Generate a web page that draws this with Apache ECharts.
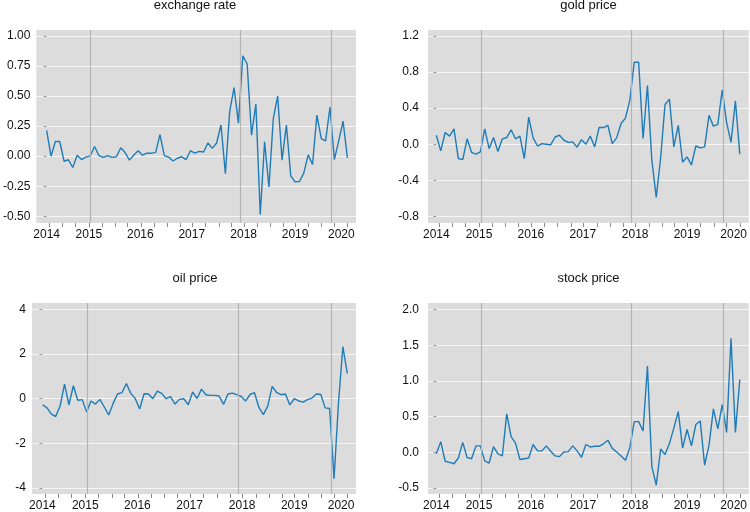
<!DOCTYPE html>
<html><head><meta charset="utf-8">
<script src="https://cdn.jsdelivr.net/npm/echarts@6/dist/echarts.min.js"></script>
<style>html,body{margin:0;padding:0;background:#fff}#c{width:750px;height:512px}</style>
</head><body><div id="c"></div>
<script>
const titles = ['exchange rate', 'gold price', 'oil price', 'stock price'];

const exchangeRate = [0.214, 0.0, 0.122, 0.122, -0.042, -0.03, -0.094, 0.008, -0.028, -0.008,
  0.003, 0.08, 0.005, -0.01, 0.005, -0.01, -0.005, 0.07, 0.03, -0.033,
  0.01, 0.045, 0.008, 0.025, 0.025, 0.03, 0.18, 0.005, -0.008, -0.04,
  -0.017, -0.005, -0.028, 0.045, 0.025, 0.04, 0.035, 0.11, 0.065, 0.11,
  0.26, -0.145, 0.375, 0.57, 0.275, 0.836, 0.767, 0.175, 0.433, -0.486,
  0.12, -0.256, 0.314, 0.5, -0.033, 0.258, -0.164, -0.214, -0.211, -0.139,
  0.011, -0.069, 0.342, 0.147, 0.128, 0.408, -0.028, 0.128, 0.292, -0.014];

const goldPrice = [0.10, -0.074, 0.13, 0.09, 0.17, -0.16, -0.17, 0.06, -0.09, -0.11,
  -0.085, 0.17, -0.05, 0.074, -0.08, 0.06, 0.074, 0.16, 0.06, 0.09,
  -0.16, 0.30, 0.07, -0.02, 0.007, 0.0, -0.007, 0.08, 0.10, 0.044,
  0.02, 0.026, -0.033, 0.05, 0.0, 0.09, -0.03, 0.185, 0.185, 0.21,
  0.007, 0.07, 0.23, 0.29, 0.49, 0.91, 0.91, 0.063, 0.65, -0.18,
  -0.59, -0.15, 0.44, 0.5, -0.03, 0.21, -0.2, -0.14, -0.23, -0.02,
  -0.04, -0.03, 0.32, 0.2, 0.22, 0.6, 0.24, 0.02, 0.48, -0.11];

const oilPrice = [-0.27, -0.4, -0.68, -0.8, -0.33, 0.65, -0.27, 0.58, -0.07, -0.04,
  -0.59, -0.1, -0.24, -0.03, -0.37, -0.73, -0.21, 0.21, 0.27, 0.68,
  0.24, 0.01, -0.46, 0.22, 0.21, 0.0, 0.34, 0.24, 0.0, 0.09,
  -0.24, -0.03, 0.0, -0.27, 0.3, 0.01, 0.43, 0.18, 0.15, 0.15,
  0.12, -0.25, 0.21, 0.25, 0.18, 0.1, -0.1, 0.19, 0.27, -0.39,
  -0.71, -0.33, 0.55, 0.28, 0.18, 0.21, -0.28, 0.0, -0.1, -0.15,
  -0.04, 0.03, 0.21, 0.19, -0.41, -0.44, -3.59, -0.2, 2.33, 1.13];

const stockPrice = [-0.02, 0.15, -0.125, -0.14, -0.16, -0.08, 0.14, -0.075, -0.09, 0.09,
  0.09, -0.12, -0.15, 0.08, -0.02, -0.05, 0.54, 0.22, 0.13, -0.1,
  -0.09, -0.08, 0.11, 0.02, 0.02, 0.09, 0.015, -0.05, -0.06, 0.005,
  0.01, 0.09, 0.02, -0.07, 0.11, 0.075, 0.085, 0.085, 0.12, 0.17,
  0.055, 0.005, -0.05, -0.11, 0.065, 0.43, 0.43, 0.3, 1.21, -0.2,
  -0.46, 0.046, -0.03, 0.125, 0.34, 0.57, 0.06, 0.32, 0.09, 0.39,
  0.44, -0.18, 0.1, 0.61, 0.33, 0.67, 0.28, 1.6, 0.28, 1.02];

const yearLabels = ['2014', '2015', '2016', '2017', '2018', '2019', '2020'];
const yearLabelPos = [0, 9.7, 21.5, 33.3, 45.2, 57, 67.6];
const quarterTickPos = [0.7, 3.6, 6.6, 9.7, 12.7, 15.7, 18.6, 21.6, 24.6, 27.6, 30.6, 33.5,
  36.5, 39.5, 42.4, 45.3, 48.3, 51.3, 54.2, 57.1, 60.1, 63.1, 66.0, 69.0];
const eventLines = [10.1, 44.4, 65.3];

const yTickValues = [
  [-0.5, -0.25, 0, 0.25, 0.5, 0.75, 1.0],
  [-0.8, -0.4, 0, 0.4, 0.8, 1.2],
  [-4, -2, 0, 2, 4],
  [-0.5, 0, 0.5, 1.0, 1.5, 2.0]
];
const yDecimals = [2, 1, 0, 1];
const yRange = [[-0.556, 1.05], [-0.874, 1.267], [-4.27, 4.29], [-0.584, 2.093]];
const seriesValues = [exchangeRate, goldPrice, oilPrice, stockPrice];

const FONT = 'Liberation Sans, Arial, sans-serif';
const LINE = '#1f7cb7';
const grids = [
  {left: 32, top: 30, width: 324, height: 193},
  {left: 428, top: 30, width: 322, height: 193},
  {left: 32, top: 303, width: 324, height: 192},
  {left: 428, top: 303, width: 322, height: 192}
];
const xRange = [[-2.36, 70.97], [-1.9, 71.04], [-2.36, 70.97], [-1.9, 71.04]];
const titlePos = [[195, -1], [588.5, -1], [195, 271.8], [588.5, 271.8]];
const yLabelMargin = [6, 9, 6, 9];

const option = {
  animation: false,
  backgroundColor: '#ffffff',
  title: titles.map((t, k) => ({
    text: t, left: titlePos[k][0], top: titlePos[k][1], textAlign: 'center', padding: 0,
    textStyle: {fontFamily: FONT, fontSize: 13, fontWeight: 'normal', color: '#111'}
  })),
  grid: grids.map(g => Object.assign({show: true, backgroundColor: '#dcdcdc', borderWidth: 0, containLabel: false}, g)),
  xAxis: grids.map((g, k) => ({
    type: 'value', gridIndex: k, min: xRange[k][0], max: xRange[k][1],
    axisLine: {show: false, onZero: false},
    splitLine: {show: false},
    axisTick: {show: true, customValues: quarterTickPos, length: 4, inside: false, lineStyle: {color: '#8a8a8a', width: 1}},
    axisLabel: {
      customValues: yearLabelPos, margin: 6, fontFamily: FONT, fontSize: 12, color: '#111',
      formatter: v => {
        let best = 0;
        yearLabelPos.forEach((p, i) => { if (Math.abs(p - v) < Math.abs(yearLabelPos[best] - v)) best = i; });
        return yearLabels[best];
      }
    }
  })),
  yAxis: grids.map((g, k) => ({
    type: 'value', gridIndex: k, min: yRange[k][0], max: yRange[k][1],
    axisLine: {show: false},
    axisTick: {show: true, customValues: yTickValues[k], length: 3, lineStyle: {color: '#9a9a9a'}},
    axisLabel: {
      customValues: yTickValues[k], margin: yLabelMargin[k], fontFamily: FONT, fontSize: 12, color: '#111',
      formatter: v => Number(v).toFixed(yDecimals[k])
    },
    splitLine: {show: true, lineStyle: {color: '#f5f5f5', width: 1}}
  })),
  series: []
};

seriesValues.forEach((vals, k) => {
  option.series.push({
    type: 'line', xAxisIndex: k, yAxisIndex: k, z: 1, silent: true,
    data: [],
    markLine: {
      silent: true, symbol: 'none', label: {show: false},
      lineStyle: {color: '#b4b4b4', width: 1.2, type: 'solid'},
      data: eventLines.map(x => ({xAxis: x}))
    }
  });
  option.series.push({
    type: 'line', xAxisIndex: k, yAxisIndex: k, z: 3,
    showSymbol: false, symbol: 'none',
    lineStyle: {color: LINE, width: 1.4},
    data: vals.map((v, i) => [i, v])
  });
});

const chart = echarts.init(document.getElementById('c'), null, {renderer: 'canvas'});
chart.setOption(option);
</script></body></html>
